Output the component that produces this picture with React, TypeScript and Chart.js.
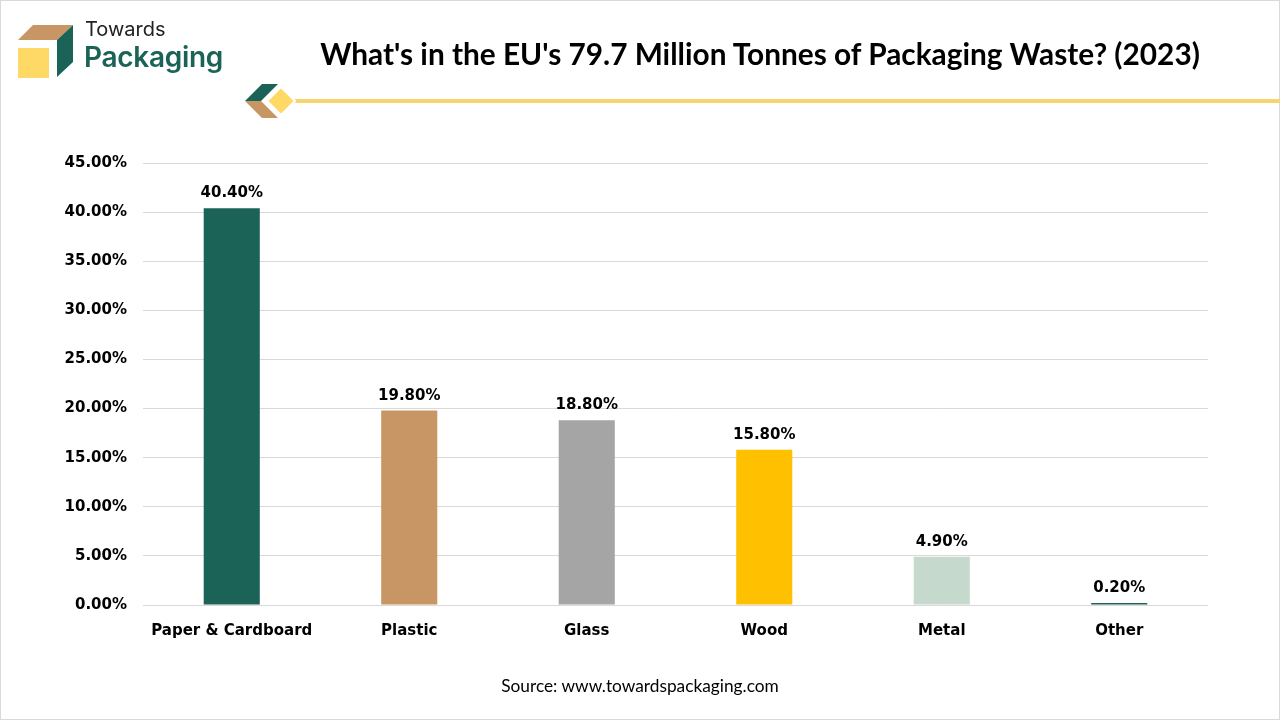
import React, { useEffect, useRef } from "react";
import { Chart, registerables } from "chart.js";

Chart.register(...registerables);

const categories = ["Paper & Cardboard", "Plastic", "Glass", "Wood", "Metal", "Other"];
const shares = [40.4, 19.8, 18.8, 15.8, 4.9, 0.2];
const barColors = ["#1A6356", "#C89664", "#A5A5A5", "#FFC000", "#C5DACC", "#1A6356"];
const yTicks = [0, 5, 10, 15, 20, 25, 30, 35, 40, 45];

const TITLE = "What's in the EU's 79.7 Million Tonnes of Packaging Waste? (2023)";
const SOURCE = "Source: www.towardspackaging.com";

const FONT = "'DejaVu Sans', Verdana, sans-serif";

const valueLabels = {
  id: "valueLabels",
  afterDatasetsDraw(chart: any) {
    const ctx = chart.ctx;
    const meta = chart.getDatasetMeta(0);
    ctx.save();
    ctx.font = `bold 15px ${FONT}`;
    ctx.fillStyle = "#000";
    ctx.textAlign = "center";
    ctx.textBaseline = "alphabetic";
    meta.data.forEach((bar: any, i: number) => {
      ctx.fillText(shares[i].toFixed(2) + "%", bar.x, bar.y - 11);
    });
    ctx.restore();
  },
};

function ChartCanvas() {
  const ref = useRef<HTMLCanvasElement>(null);
  useEffect(() => {
    if (!ref.current) return;
    const chart = new Chart(ref.current, {
      type: "bar",
      data: {
        labels: categories,
        datasets: [
          {
            data: shares,
            backgroundColor: barColors,
            borderWidth: 0,
            categoryPercentage: 1,
            barPercentage: 0.316,
          },
        ],
      },
      options: {
        animation: false,
        responsive: false,
        devicePixelRatio: 1,
        layout: { padding: { left: 0, right: 72, top: 163, bottom: 0 } },
        plugins: { legend: { display: false }, tooltip: { enabled: false } },
        scales: {
          x: {
            grid: { display: false, drawTicks: false },
            border: { display: false },
            ticks: {
              color: "#000",
              font: { family: FONT, size: 15, weight: "bold" },
              padding: 17,
              maxRotation: 0,
              autoSkip: false,
            },
            afterFit: (s: any) => {
              s.height = 115;
            },
          },
          y: {
            min: 0,
            max: 45,
            afterBuildTicks: (s: any) => {
              s.ticks = yTicks.map((v) => ({ value: v }));
            },
            grid: { color: "#D9D9D9", lineWidth: 1, drawTicks: false },
            border: { display: false },
            ticks: {
              color: "#000",
              font: { family: FONT, size: 15, weight: "bold" },
              padding: 16,
              callback: (v: any) => Number(v).toFixed(2) + "%",
            },
            afterFit: (s: any) => {
              s.width = 143;
            },
          },
        },
      },
      plugins: [valueLabels],
    });
    return () => chart.destroy();
  }, []);
  return (
    <canvas
      ref={ref}
      width={1280}
      height={720}
      style={{ position: "absolute", left: 0, top: 0, width: 1280, height: 720 }}
    />
  );
}

export default function App() {
  useEffect(() => {
    document.body.style.margin = "0";
  }, []);
  return (
    <div
      style={{
        position: "absolute",
        left: 0,
        top: 0,
        width: 1280,
        height: 720,
        background: "#fff",
        overflow: "hidden",
        boxSizing: "border-box",
      }}
    >
      <ChartCanvas />
      <svg
        width={1280}
        height={720}
        style={{ position: "absolute", left: 0, top: 0, pointerEvents: "none" }}
      >
        <rect x={0.5} y={0.5} width={1279} height={719} fill="none" stroke="#D9D9D9" strokeWidth={1} />
        {/* logo */}
        <polygon points="33,25 73,25 57,40 18,40" fill="#C89664" />
        <polygon points="57,40 73,25 73,62 57,77" fill="#1A6356" />
        <rect x={18} y={48} width={31} height={30} fill="#FFD966" />
        {/* decoration */}
        <rect x={285} y={99} width={995} height={4} fill="#F7D56E" />
        <polygon points="245,101 262,84 278,84 261,101" fill="#1A6356" />
        <polygon points="245,101 261,101 278,118 262,118" fill="#C89664" />
        <polygon points="281,87 295,101 281,115 267,101" fill="#FFD966" stroke="#fff" strokeWidth={2} />
      </svg>
      <div
        style={{
          position: "absolute",
          left: 85,
          top: 17,
          fontFamily: "Inter, 'Open Sans', sans-serif",
          fontSize: 20,
          color: "#222",
          lineHeight: "24px",
        }}
      >
        Towards
      </div>
      <div
        style={{
          position: "absolute",
          left: 84,
          top: 40,
          fontFamily: "Inter, 'Open Sans', sans-serif",
          fontWeight: 600,
          fontSize: 28,
          color: "#1A6356",
          lineHeight: "34px",
          letterSpacing: "-0.3px",
        }}
      >
        Packaging
      </div>
      <div
        style={{
          position: "absolute",
          left: 240,
          width: 1040,
          top: 35,
          textAlign: "center",
          fontFamily: "Lato, 'Open Sans', sans-serif",
          fontWeight: 700,
          fontSize: 29.8,
          lineHeight: "38px",
          color: "#000",
          whiteSpace: "nowrap",
        }}
      >
        {TITLE}
      </div>
      <div
        style={{
          position: "absolute",
          left: 0,
          width: 1280,
          top: 675,
          textAlign: "center",
          fontFamily: "Lato, 'Open Sans', sans-serif",
          fontSize: 17.3,
          lineHeight: "22px",
          color: "#000",
        }}
      >
        {SOURCE}
      </div>
    </div>
  );
}
